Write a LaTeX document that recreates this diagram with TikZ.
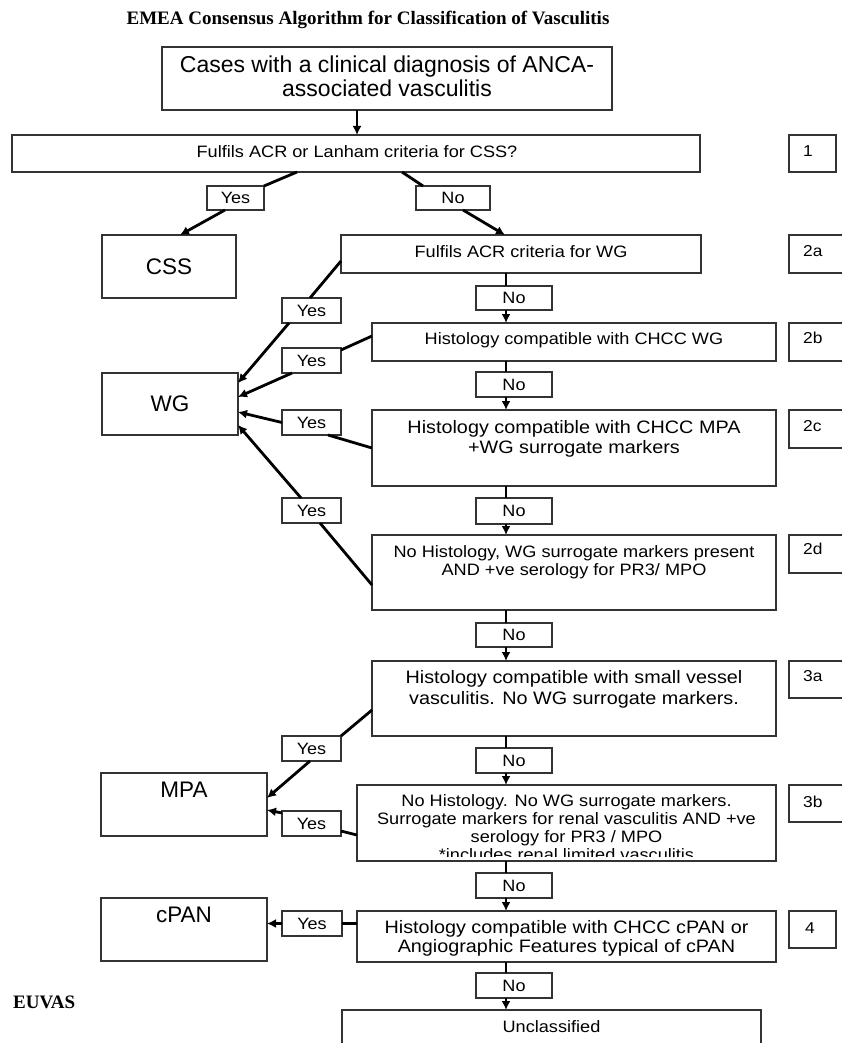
\documentclass[tikz,border=0pt]{standalone}
\usepackage{fontspec}
\usetikzlibrary{arrows.meta}
\newfontfamily\arialf{Liberation Sans}
\newfontfamily\arialw[FakeStretch=1.1]{Liberation Sans}
\newfontfamily\tnrf{Liberation Serif}
\newcommand\fs[1]{\fontsize{#1}{#1}\selectfont}
\tikzset{
  box/.style={draw=black!80, line width=1.4pt, rectangle, inner sep=0pt, outer sep=0pt},
  lbl/.style={box, font=\arialw\fs{16.4}},
  conn/.style={line width=2.8pt, black},
  arr/.style={conn, -{Latex[length=9pt,width=9pt]}},
  small/.style={font=\arialw\fs{16.5}, anchor=base, inner sep=0pt},
  medium/.style={font=\arialw\fs{18}, anchor=base, inner sep=0pt},
  big/.style={font=\arialf\fs{22.5}, anchor=base, inner sep=0pt},
  side/.style={font=\arialw\fs{15.8}, anchor=base west, inner sep=0pt},
  serifttl/.style={font=\tnrf\bfseries\fs{19}, inner sep=0pt}
}
\newcommand\bx[5]{\node[box, anchor=north west, minimum width=#4-#2, minimum height=#5-#3] (#1) at (#2,#3) {};}
\newcommand\lb[6]{\node[lbl, anchor=north west, minimum width=#4-#2, minimum height=#5-#3] (#1) at (#2,#3) {#6};}
\begin{document}
\begin{tikzpicture}[x=1pt,y=-1pt]
\useasboundingbox (0,0) rectangle (842,1043);
\node[serifttl, anchor=base] (title) at (368,25) {EMEA Consensus Algorithm for Classification of Vasculitis};
\node[serifttl, anchor=base west] (euvas) at (13,1008) {EUVAS};

% boxes
\bx{top}{162}{47}{612}{110}
\bx{q1}{12}{135}{700}{172}
\bx{s1}{789}{135}{836}{172}
\bx{css}{102}{235}{236}{298}
\bx{q2a}{341}{235}{701}{273}
\bx{s2a}{789}{235}{850}{273}
\bx{q2b}{372}{323}{776}{361}
\bx{s2b}{789}{323}{850}{361}
\bx{wg}{102}{373}{238}{435}
\bx{q2c}{372}{410}{776}{486}
\bx{s2c}{789}{410}{850}{448}
\bx{q2d}{372}{535}{776}{610}
\bx{s2d}{789}{535}{850}{573}
\bx{q3a}{372}{661}{776}{736}
\bx{s3a}{789}{661}{850}{698}
\bx{mpa}{101}{773}{267}{836}
\bx{q3b}{357}{785}{776}{861}
\bx{s3b}{789}{785}{850}{822}
\bx{cpan}{101}{898}{267}{961}
\bx{q4}{357}{911}{776}{962}
\bx{s4}{789}{911}{836}{948}
\bx{uncl}{342}{1010}{761}{1070}

% yes / no labels
\lb{yes1}{207}{186}{264}{210}{Yes}
\lb{no1}{416}{186}{490}{210}{No}
\lb{no2a}{476}{286}{552}{310}{No}
\lb{yes2a}{282}{298}{341}{323}{Yes}
\lb{yes2b}{282}{348}{341}{373}{Yes}
\lb{no2b}{476}{372}{552}{397}{No}
\lb{yes2c}{282}{410}{341}{435}{Yes}
\lb{yes2d}{282}{498}{341}{523}{Yes}
\lb{no2c}{476}{498}{552}{524}{No}
\lb{no2d}{476}{623}{552}{647}{No}
\lb{yes3a}{282}{736}{341}{761}{Yes}
\lb{no3a}{476}{748}{552}{773}{No}
\lb{yes3b}{282}{811}{341}{836}{Yes}
\lb{no3b}{476}{873}{552}{898}{No}
\lb{yes4}{282}{911}{342}{936}{Yes}
\lb{no4}{476}{973}{552}{998}{No}

% texts
\node[big, font=\arialf\fs{23}] (ttop1) at (387,73) {Cases with a clinical diagnosis of ANCA-};
\node[big, font=\arialf\fs{23}] (ttop2) at (387,97) {associated vasculitis};
\node[small] (tq1) at (357,158) {Fulfils ACR or Lanham criteria for CSS?};
\node[side] (ts1) at (803,157) {1};
\node[big, anchor=center] (tcss) at (css.center) {CSS};
\node[big, anchor=center] (twg) at (wg.center) {WG};
\node[big] (tmpa) at (184,797) {MPA};
\node[big] (tcpan) at (184,922) {cPAN};
\node[small] (tq2a) at (521,257) {Fulfils ACR criteria for WG};
\node[side] (ts2a) at (803,256) {2a};
\node[small] (tq2b) at (574,344) {Histology compatible with CHCC WG};
\node[side] (ts2b) at (803,343) {2b};
\node[medium] (tq2c1) at (574,433) {Histology compatible with CHCC MPA};
\node[medium] (tq2c2) at (574,453) {+WG surrogate markers};
\node[side] (ts2c) at (803,431) {2c};
\node[small] (tq2d1) at (574,557) {No Histology, WG surrogate markers present};
\node[small] (tq2d2) at (574,575) {AND +ve serology for PR3/ MPO};
\node[side] (ts2d) at (803,554) {2d};
\node[medium] (tq3a1) at (574,683) {Histology compatible with small vessel};
\node[medium] (tq3a2) at (574,704) {vasculitis. No WG surrogate markers.};
\node[side] (ts3a) at (803,681) {3a};
\node[small] (tq3b1) at (566.5,806) {No Histology. No WG surrogate markers.};
\node[small] (tq3b2) at (566.5,824) {Surrogate markers for renal vasculitis AND +ve};
\node[small] (tq3b3) at (566.5,842) {serology for PR3 / MPO};
\begin{scope}
\clip (357,785) rectangle (776,856);
\node[small] (tq3b4) at (566.5,860) {*includes renal limited vasculitis};
\end{scope}
\node[side] (ts3b) at (803,807) {3b};
\node[medium] (tq41) at (566.5,933) {Histology compatible with CHCC cPAN or};
\node[medium] (tq42) at (566.5,952) {Angiographic Features typical of cPAN};
\node[side] (ts4) at (805,933) {4};
\node[small] (tuncl) at (551.5,1032) {Unclassified};

% connectors
\coordinate (ax) at (357,0);
\coordinate (vx) at (506,0);
\draw[arr] (top.south -| ax) -- (q1.north -| ax);
\draw[conn] ([xshift=285]q1.south west) -- (yes1.north east);
\draw[arr] ([xshift=18]yes1.south west) -- ([xshift=78]css.north west);
\draw[conn] ([xshift=390]q1.south west) -- ([xshift=7]no1.north west);
\draw[arr] ([xshift=47]no1.south west) -- ([xshift=164]q2a.north west);

\draw[conn] (q2a.south -| vx) -- (no2a.north -| vx);
\draw[arr] (no2a.south -| vx) -- (q2b.north -| vx);
\draw[conn] (q2b.south -| vx) -- (no2b.north -| vx);
\draw[arr] (no2b.south -| vx) -- (q2c.north -| vx);
\draw[conn] (q2c.south -| vx) -- (no2c.north -| vx);
\draw[arr] (no2c.south -| vx) -- (q2d.north -| vx);
\draw[conn] (q2d.south -| vx) -- (no2d.north -| vx);
\draw[arr] (no2d.south -| vx) -- (q3a.north -| vx);
\draw[conn] (q3a.south -| vx) -- (no3a.north -| vx);
\draw[arr] (no3a.south -| vx) -- (q3b.north -| vx);
\draw[conn] (q3b.south -| vx) -- (no3b.north -| vx);
\draw[arr] (no3b.south -| vx) -- (q4.north -| vx);
\draw[conn] (q4.south -| vx) -- (no4.north -| vx);
\draw[arr] (no4.south -| vx) -- (uncl.north -| vx);

\draw[conn] ([yshift=-26]q2a.north west) -- ([xshift=28]yes2a.north west);
\draw[arr] ([xshift=7]yes2a.south west) -- ([yshift=-10]wg.north east);
\draw[conn] ([yshift=-13]q2b.north west) -- ([yshift=-2]yes2b.north east);
\draw[arr] ([xshift=10]yes2b.south west) -- ([yshift=-24]wg.north east);
\draw[conn] ([yshift=-38]q2c.north west) -- ([xshift=-13]yes2c.south east);
\draw[arr] (yes2c.west) -- ([yshift=-39]wg.north east);
\draw[conn] ([yshift=-50]q2d.north west) -- ([xshift=38]yes2d.south west);
\draw[arr] ([xshift=19]yes2d.north west) -- ([yshift=-52]wg.north east);
\draw[conn] ([yshift=-49]q3a.north west) -- (yes3a.north east);
\draw[arr] ([xshift=28]yes3a.south west) -- ([yshift=-25]mpa.north east);
\draw[conn] ([yshift=-50]q3b.north west) -- ([yshift=-20]yes3b.north east);
\draw[arr] ([yshift=-2]yes3b.north west) -- ([yshift=-37]mpa.north east);
\draw[conn] (yes4.east -| q4.west) -- (yes4.east);
\draw[arr] (yes4.west) -- (yes4.west -| cpan.east);
\end{tikzpicture}
\end{document}
